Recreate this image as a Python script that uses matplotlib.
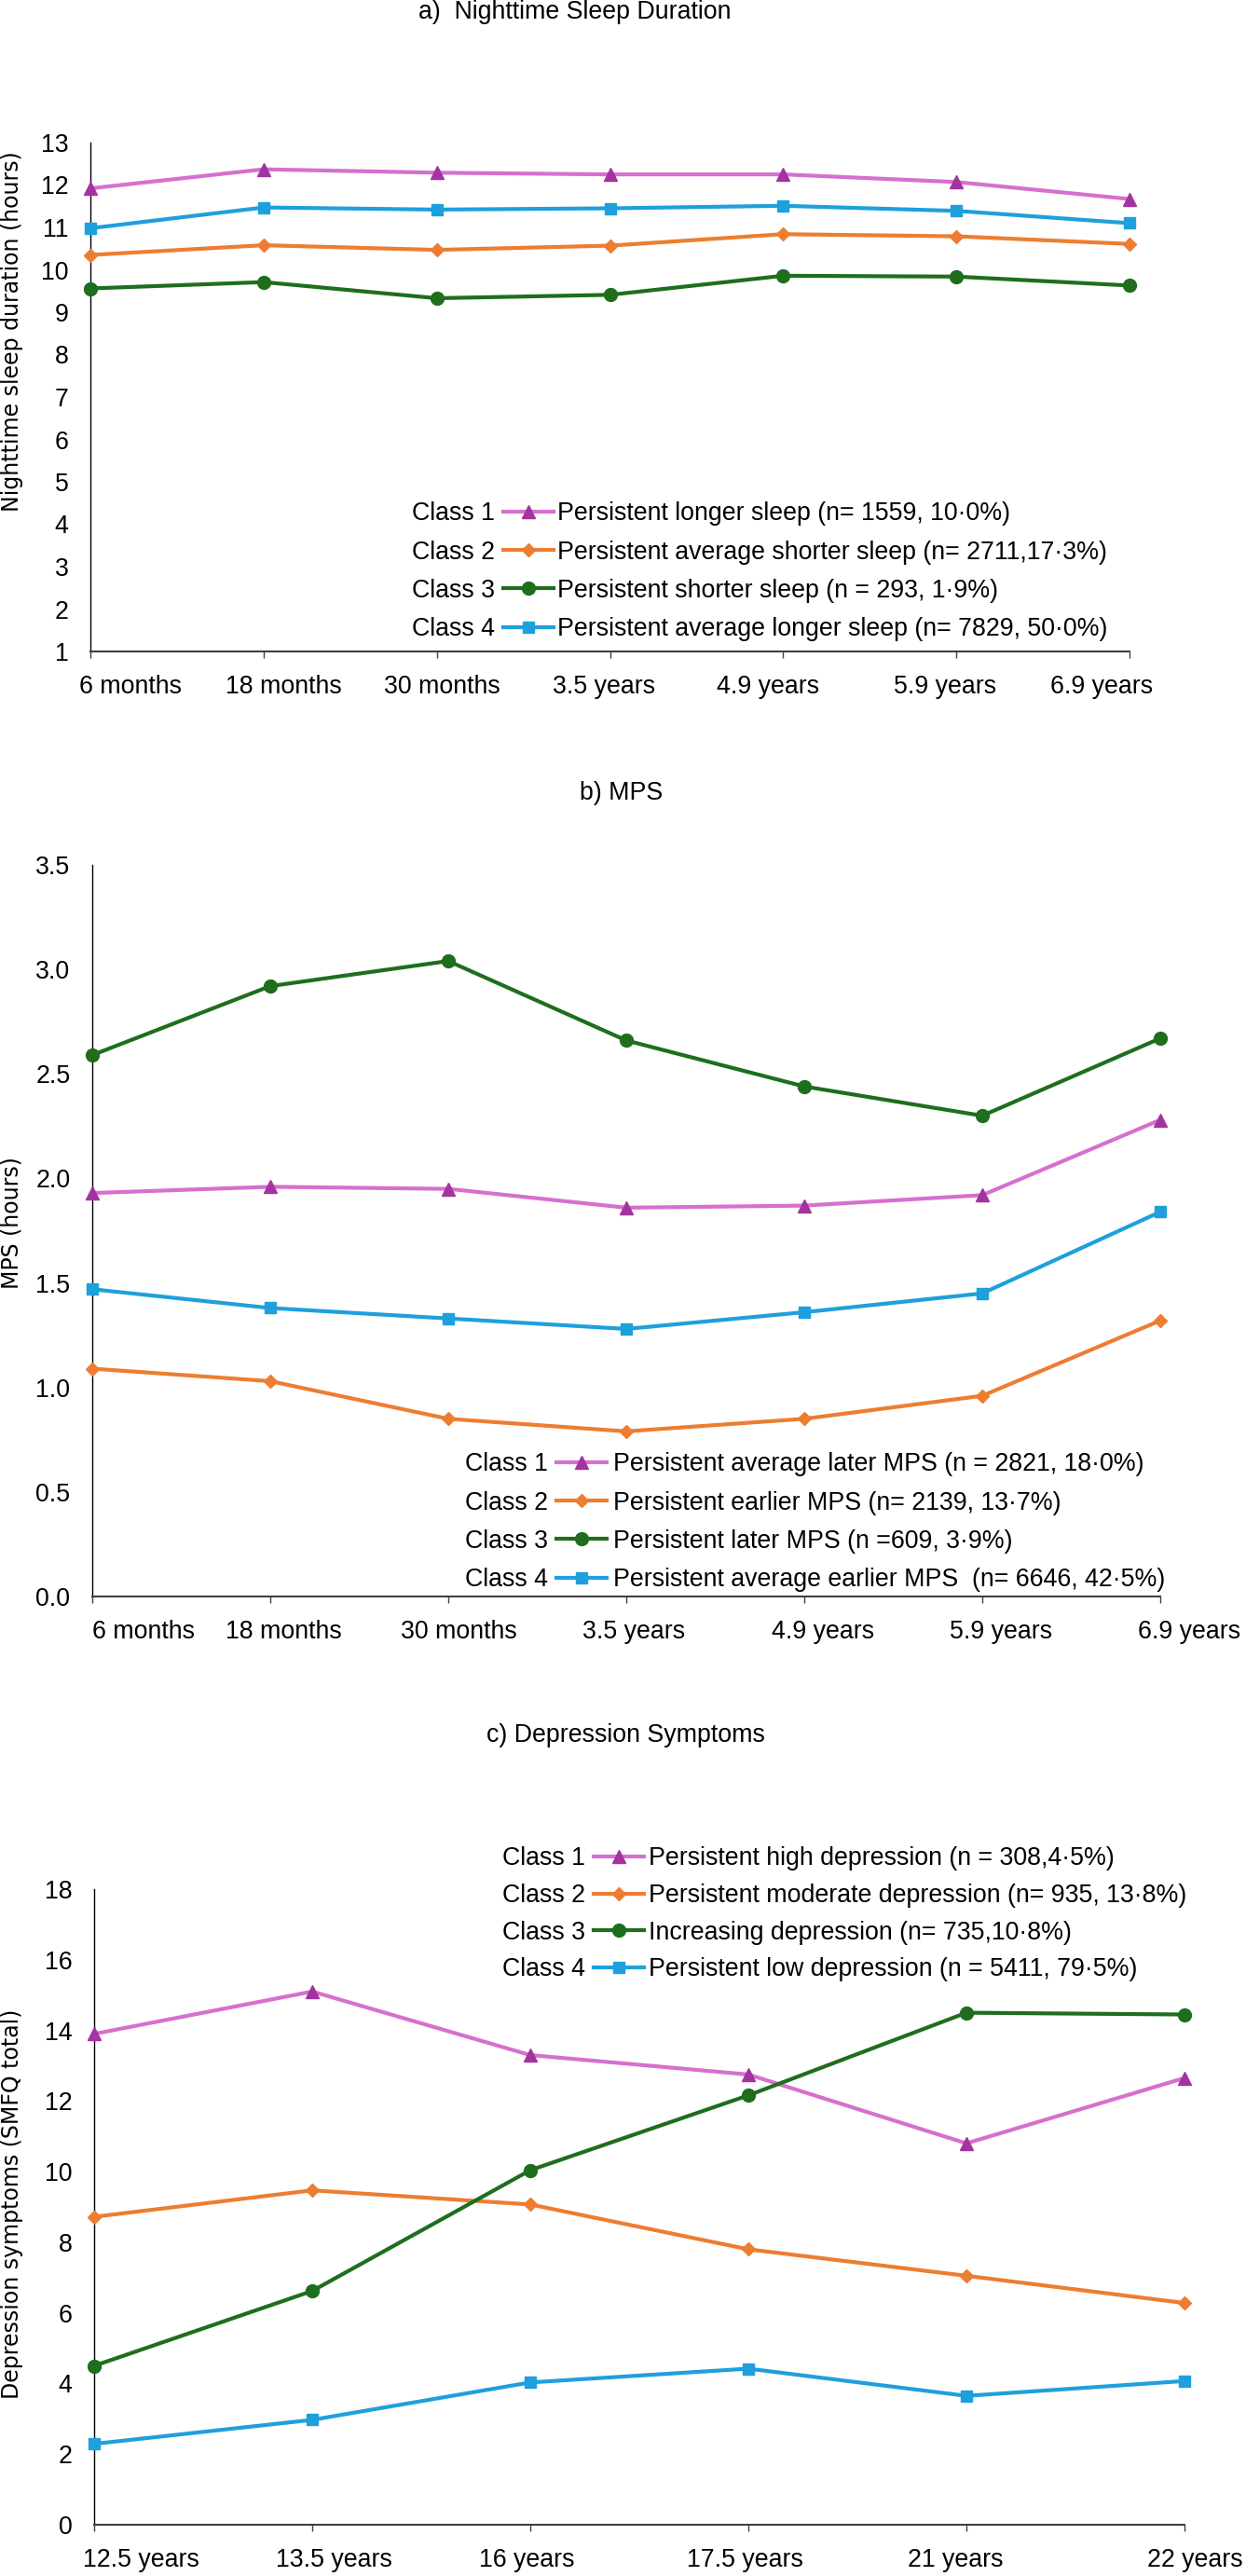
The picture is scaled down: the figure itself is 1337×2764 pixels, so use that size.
import matplotlib
matplotlib.use("Agg")
import matplotlib.pyplot as plt
from matplotlib.lines import Line2D
from matplotlib.transforms import ScaledTranslation

plt.rcParams['font.family'] = ['Liberation Sans', 'DejaVu Sans']

W, H = 1337, 2764
FS = 19.3

# a) nighttime sleep duration
sleep_times = ['6 months', '18 months', '30 months', '3.5 years', '4.9 years', '5.9 years', '6.9 years']
sleep_c1 = [11.92, 12.37, 12.29, 12.25, 12.25, 12.07, 11.67]
sleep_c2 = [10.35, 10.58, 10.47, 10.57, 10.84, 10.79, 10.61]
sleep_c3 = [9.56, 9.71, 9.33, 9.41, 9.86, 9.84, 9.63]
sleep_c4 = [10.98, 11.47, 11.42, 11.45, 11.51, 11.39, 11.10]
sleep_desc = ['Persistent longer sleep (n= 1559, 10·0%)',
              'Persistent average shorter sleep (n= 2711,17·3%)',
              'Persistent shorter sleep (n = 293, 1·9%)',
              'Persistent average longer sleep (n= 7829, 50·0%)']

# b) MPS
mps_times = sleep_times
mps_c1 = [1.93, 1.96, 1.95, 1.86, 1.87, 1.92, 2.28]
mps_c2 = [1.09, 1.03, 0.85, 0.79, 0.85, 0.96, 1.32]
mps_c3 = [2.59, 2.92, 3.04, 2.66, 2.44, 2.30, 2.67]
mps_c4 = [1.47, 1.38, 1.33, 1.28, 1.36, 1.45, 1.84]
mps_desc = ['Persistent average later MPS (n = 2821, 18·0%)',
            'Persistent earlier MPS (n= 2139, 13·7%)',
            'Persistent later MPS (n =609, 3·9%)',
            'Persistent average earlier MPS  (n= 6646, 42·5%)']

# c) depression
dep_times = ['12.5 years', '13.5 years', '16 years', '17.5 years', '21 years', '22 years']
dep_c1 = [13.9, 15.1, 13.3, 12.75, 10.8, 12.65]
dep_c2 = [8.72, 9.47, 9.07, 7.8, 7.05, 6.28]
dep_c3 = [4.5, 6.62, 10.04, 12.16, 14.5, 14.45]
dep_c4 = [2.29, 2.97, 4.03, 4.42, 3.65, 4.07]
dep_desc = ['Persistent high depression (n = 308,4·5%)',
            'Persistent moderate depression (n= 935, 13·8%)',
            'Increasing depression (n= 735,10·8%)',
            'Persistent low depression (n = 5411, 79·5%)']

class_names = ['Class 1', 'Class 2', 'Class 3', 'Class 4']

# line styles per class
styles = [
    dict(color='#D670CE', marker='^', mfc='#A3339E', mec='#A3339E', ms=10),
    dict(color='#ED7D31', marker='D', mfc='#ED7D31', mec='#ED7D31', ms=7),
    dict(color='#1E6E1E', marker='o', mfc='#1E6E1E', mec='#1E6E1E', ms=10),
    dict(color='#1EA0DC', marker='s', mfc='#1EA0DC', mec='#1EA0DC', ms=9),
]

fig = plt.figure(figsize=(W / 100, H / 100), dpi=100)


def px_box(l, t, r, b):
    return [l / W, 1 - b / H, (r - l) / W, (b - t) / H]


def panel(box, times, series, ylim, yticks, yfmt, shifts, first_dx):
    ax = fig.add_axes(px_box(*box))
    x = list(range(len(times)))
    lines = []
    for vals, st in zip(series, styles):
        ln, = ax.plot(x, vals, lw=3, clip_on=False, zorder=3, **st)
        lines.append(ln)
    ax.set_xlim(0, len(times) - 1)
    ax.set_ylim(*ylim)
    ax.set_yticks(yticks)
    ax.set_yticklabels([yfmt.format(v) for v in yticks])
    ax.set_xticks(x)
    ax.set_xticklabels(times)
    for s in ['top', 'right']:
        ax.spines[s].set_visible(False)
    ax.spines['left'].set_linewidth(1.0)
    ax.spines['left'].set_color('black')
    ax.spines['bottom'].set_linewidth(1.5)
    ax.spines['bottom'].set_color('#404040')
    ax.tick_params(axis='y', length=0, pad=17, labelsize=FS)
    ax.tick_params(axis='x', length=5, width=1, color='#404040', direction='out', pad=13, labelsize=FS)
    labs = ax.get_xticklabels()
    labs[0].set_horizontalalignment('left')
    labs[0].set_transform(labs[0].get_transform() + ScaledTranslation(first_dx / 100, 0, fig.dpi_scale_trans))
    for lab, dx in zip(labs[1:], shifts):
        lab.set_transform(lab.get_transform() + ScaledTranslation(dx / 100, 0, fig.dpi_scale_trans))
    return ax, lines


def class_legend(lines, descs, x_handle_end, x_desc, row1_center, spacing):
    em = FS * 100 / 72
    ls = spacing / em - 0.926
    top = row1_center - 0.356 * em
    y = 1 - top / H
    common = dict(loc=None, frameon=False, borderpad=0, borderaxespad=0, fontsize=FS,
                  labelspacing=ls, numpoints=1, bbox_transform=fig.transFigure)
    common.pop('loc')
    fig.legend(lines, class_names, loc='upper right', bbox_to_anchor=(x_handle_end / W, y),
               markerfirst=False, handlelength=2.0, handletextpad=0.35, **common)
    blanks = [Line2D([], [], linestyle='none') for _ in descs]
    fig.legend(blanks, descs, loc='upper left', bbox_to_anchor=(x_desc / W, y),
               handlelength=0, handletextpad=0, **common)


# panel a
ax_a, lines_a = panel((97, 153, 1212, 699), sleep_times, [sleep_c1, sleep_c2, sleep_c3, sleep_c4],
                      (1, 13), list(range(1, 14)), '{:d}', [22, 6, -6, -16, -12, -30], -12)
class_legend(lines_a, sleep_desc, 594, 598, 548, 40)
fig.text(617 / W, 1 - 13 / H, 'a)  Nighttime Sleep Duration', ha='center', va='center', fontsize=FS)
fig.text(13 / W, 1 - 356 / H, 'Nighttime sleep duration (hours)', rotation=90, ha='center', va='center',
         fontsize=17, family='DejaVu Sans')

# panel b
ax_b, lines_b = panel((99, 928, 1245, 1713), mps_times, [mps_c1, mps_c2, mps_c3, mps_c4],
                      (0, 3.5), [0, 0.5, 1.0, 1.5, 2.0, 2.5, 3.0, 3.5], '{:.1f}', [14, 11, 8, 20, 20, 31], 0)
class_legend(lines_b, mps_desc, 651, 658, 1568, 40)
fig.text(667 / W, 1 - 851 / H, 'b) MPS', ha='center', va='center', fontsize=FS)
fig.text(13 / W, 1 - 1312 / H, 'MPS (hours)', rotation=90, ha='center', va='center',
         fontsize=17, family='DejaVu Sans')

# panel c
ax_c, lines_c = panel((101, 2027, 1271, 2709), dep_times, [dep_c1, dep_c2, dep_c3, dep_c4],
                      (0, 18), list(range(0, 19, 2)), '{:d}', [23, -4, -4, -12, 11], -12)
class_legend(lines_c, dep_desc, 691, 696, 1991, 38.5)
fig.text(671 / W, 1 - 1862 / H, 'c) Depression Symptoms', ha='center', va='center', fontsize=FS)
fig.text(13 / W, 1 - 2365 / H, 'Depression symptoms (SMFQ total)', rotation=90, ha='center', va='center',
         fontsize=17, family='DejaVu Sans')

fig.savefig('out.png', dpi=100, facecolor='white')
